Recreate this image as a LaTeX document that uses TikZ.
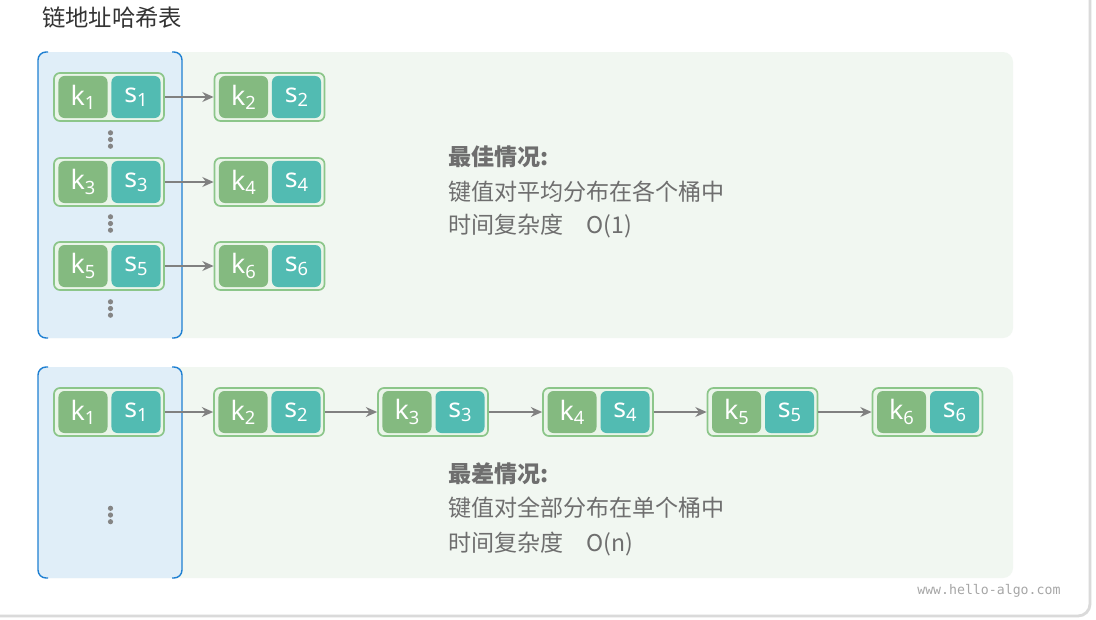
\documentclass[tikz,border=0pt]{standalone}
\usepackage{fontspec}
\setmainfont{Noto Sans CJK SC}
\newfontfamily\kvfont{Noto Sans}
\newfontfamily\urlfont{DejaVu Sans Mono}
\usetikzlibrary{calc, arrows.meta}

% key-value pair: name, x, y, index
\newcommand{\kvpair}[4]{%
  \node[pairbox] (#1) at (#2,#3) {};
  \node[keybox] (#1k) at ($(#1)+(-26,0)$) {k\raisebox{-3pt}{\fontsize{13}{13}\selectfont #4}};
  \node[valbox] (#1s) at ($(#1)+(27,0)$) {s\raisebox{-3pt}{\fontsize{13}{13}\selectfont #4}};
}

\begin{document}
\begin{tikzpicture}[x=0.025cm, y=-0.025cm,
    pairbox/.style={draw=pairBorder, fill=pairFill, line width=1.2pt, rounded corners=0.15cm,
      minimum width=2.75cm, minimum height=1.2cm, inner sep=0pt},
    cellbox/.style={rounded corners=0.15cm, minimum width=1.225cm, minimum height=1.05cm,
      inner sep=0pt, text=white, font=\kvfont\fontsize{19}{19}\selectfont},
    keybox/.style={cellbox, fill=keyFill},
    valbox/.style={cellbox, fill=valFill},
    link/.style={draw=linkColour, line width=1.7pt, -{Stealth[length=8pt, width=7pt]}},
    bucketline/.style={draw=bucketBorder, line width=1pt, rounded corners=0.2cm},
    note/.style={anchor=west, text=noteColour, font=\fontsize{16.4}{16.4}\selectfont, inner sep=0pt},
    dot/.style={fill=dotColour}]
    % Define colours
    \definecolor{pairBorder}{HTML}{8CC68A}
    \definecolor{pairFill}{HTML}{EAF5E9}
    \definecolor{keyFill}{HTML}{84BA80}
    \definecolor{valFill}{HTML}{52BBB2}
    \definecolor{linkColour}{HTML}{808080}
    \definecolor{panelFill}{HTML}{F1F7F1}
    \definecolor{bucketFill}{HTML}{E0EEF8}
    \definecolor{bucketBorder}{HTML}{1F80D2}
    \definecolor{noteColour}{HTML}{6E6E6E}
    \definecolor{titleColour}{HTML}{333333}
    \definecolor{dotColour}{HTML}{858585}
    \definecolor{frameColour}{HTML}{DADADA}

  % Fix the canvas
  \useasboundingbox (0,0) rectangle (1096,619);
  \clip (0,0) rectangle (1096,619);
  \fill[white] (0,0) rectangle (1096,619);
  \draw[frameColour, line width=2pt, rounded corners=0.3cm] (-30,-30) rectangle (1090,616);

  % Title
  \node[anchor=west, text=titleColour, font=\fontsize{16.6}{16.6}\selectfont, inner sep=0pt] (title) at (42,18) {链地址哈希表};

  % Draw the panels
  \foreach \top/\bot in {52/338, 367/578} {
    \fill[panelFill, rounded corners=0.25cm] (38,\top) rectangle (1013,\bot);
    \fill[bucketFill, rounded corners=0.2cm] (38,\top) rectangle (182,\bot);
    \draw[bucketline] (48,\top) -- (38,\top) -- (38,\bot) -- (48,\bot);
    \draw[bucketline] (172,\top) -- (182,\top) -- (182,\bot) -- (172,\bot);
  }

  % Best case: one pair per bucket
  \kvpair{a1}{109}{97}{1}
  \kvpair{a2}{269.5}{97}{2}
  \kvpair{a3}{109}{182}{3}
  \kvpair{a4}{269.5}{182}{4}
  \kvpair{a5}{109}{266}{5}
  \kvpair{a6}{269.5}{266}{6}
  \foreach \i/\j in {a1/a2, a3/a4, a5/a6}
    \draw[link] (\i.east) -- (\j.west);

  % Worst case: all pairs in one bucket
  \kvpair{b1}{109}{412}{1}
  \kvpair{b2}{269}{412}{2}
  \kvpair{b3}{433}{412}{3}
  \kvpair{b4}{598}{412}{4}
  \kvpair{b5}{762.5}{412}{5}
  \kvpair{b6}{927.5}{412}{6}
  \foreach \i/\j in {b1/b2, b2/b3, b3/b4, b4/b5, b5/b6}
    \draw[link] (\i.east) -- (\j.west);

  % Draw the ellipsis dots
  \foreach \y in {139.5, 223.5, 308.5, 515}
    \foreach \d in {-6.7, 0, 6.7}
      \fill[dot] (110.5,\y+\d) circle (2.6);

  % Notes
  \node[note, font=\bfseries\fontsize{16.4}{16.4}\selectfont] (bestHead) at (448,157) {最佳情况:};
  \node[note] (bestSpread) at (448,192) {键值对平均分布在各个桶中};
  \node[note] (bestTime) at (448,226) {时间复杂度\hspace{1em}O(1)};
  \node[note, font=\bfseries\fontsize{16.4}{16.4}\selectfont] (worstHead) at (448,474) {最差情况:};
  \node[note] (worstSpread) at (448,508) {键值对全部分布在单个桶中};
  \node[note] (worstTime) at (448,544) {时间复杂度\hspace{1em}O(n)};

  % Watermark
  \node[anchor=west, text=black!35, font=\urlfont\fontsize{9.4}{9.4}\selectfont, inner sep=0pt] (site) at (917,591) {www.hello-algo.com};
\end{tikzpicture}
\end{document}
